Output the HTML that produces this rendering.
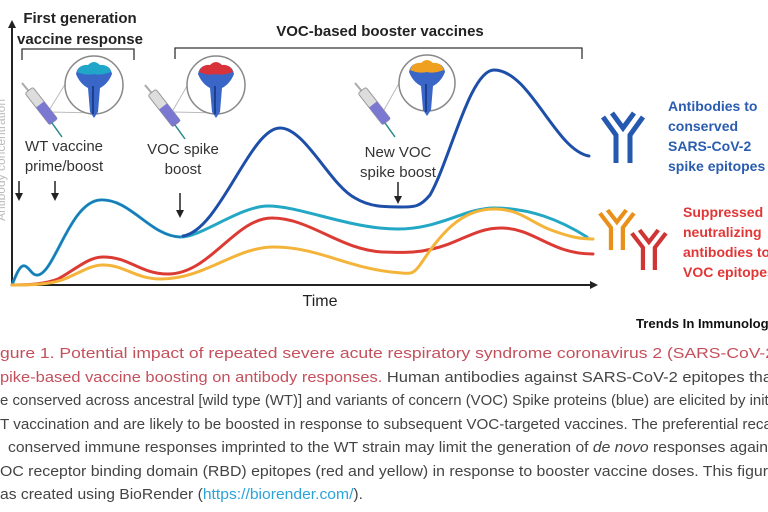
<!DOCTYPE html>
<html><head><meta charset="utf-8"><style>
html,body{margin:0;padding:0;background:#fff;}
svg{display:block;font-family:"Liberation Sans",sans-serif;}
</style></head><body>
<svg width="768" height="512" viewBox="0 0 768 512" xmlns="http://www.w3.org/2000/svg">
<defs>
<marker id="ah" markerWidth="8" markerHeight="8" refX="4" refY="4" orient="auto" markerUnits="userSpaceOnUse"><path d="M0,0 L8,4 L0,8 z" fill="#222"/></marker>
<g id="syr">
  <line x1="0" y1="0" x2="10" y2="12" stroke="#aaa" stroke-width="2"/>
  <rect x="-4" y="10" width="10" height="40" rx="2" fill="#ddd" stroke="#999" stroke-width="1" transform="rotate(-38 0 0)"/>
  <rect x="-4" y="28" width="10" height="22" fill="#7a78d0" transform="rotate(-38 0 0)"/>
  <line x1="30" y1="40" x2="40" y2="54" stroke="#2a8a8a" stroke-width="1.5"/>
</g>
<g id="spk">
  <path d="M-18,-10 Q-16,-20 -6,-18 Q0,-24 6,-18 Q16,-20 18,-10 Q14,0 6,4 L4,28 L0,34 L-4,28 L-6,4 Q-14,0 -18,-10z" fill="#3a66c8"/>
  <path d="M-1,2 L-1,30" stroke="#1c3f90" stroke-width="2"/>
</g>
<g id="ab">
  <path d="M-6,4 L7,22 L7,50 M34,4 L21,22 L21,50" stroke="currentColor" stroke-width="5" fill="none"/>
  <path d="M3,0 L14,15 L25,0" stroke="currentColor" stroke-width="5" fill="none"/>
</g>
</defs>

<!-- axes -->
<line x1="12" y1="285" x2="12" y2="24" stroke="#222" stroke-width="2" marker-end="url(#ah)"/>
<line x1="12" y1="285" x2="594" y2="285" stroke="#222" stroke-width="2" marker-end="url(#ah)"/>
<text x="5" y="160" font-size="12" fill="#bbb" transform="rotate(-90 5 160)" text-anchor="middle">Antibody concentration</text>
<text x="320" y="306" font-size="16" fill="#222" text-anchor="middle">Time</text>

<!-- headers -->
<text x="80" y="23" font-size="15" font-weight="bold" fill="#222" text-anchor="middle">First generation</text>
<text x="80" y="44" font-size="15" font-weight="bold" fill="#222" text-anchor="middle">vaccine response</text>
<path d="M22,60 V49 H134 V60" fill="none" stroke="#333" stroke-width="1.3"/>
<text x="380" y="36" font-size="15" font-weight="bold" fill="#222" text-anchor="middle">VOC-based booster vaccines</text>
<path d="M175,59 V48 H582 V59" fill="none" stroke="#333" stroke-width="1.3"/>

<!-- icons -->
<g>
  <line x1="48" y1="112" x2="80" y2="60" stroke="#bbb" stroke-width="1"/>
  <line x1="48" y1="112" x2="100" y2="113" stroke="#bbb" stroke-width="1"/>
  <circle cx="94" cy="85" r="29" fill="#fff" stroke="#888" stroke-width="1.5"/>
  <use href="#spk" x="94" y="84"/>
  <path d="M77,72 Q80,64 88,65 Q94,59 100,65 Q108,64 111,72 Q100,76 94,74 Q86,76 77,72z" fill="#1fa6c8"/>
  <use href="#syr" x="22" y="83"/>
</g>
<g>
  <line x1="172" y1="112" x2="202" y2="60" stroke="#bbb" stroke-width="1"/>
  <line x1="172" y1="112" x2="222" y2="113" stroke="#bbb" stroke-width="1"/>
  <circle cx="216" cy="85" r="29" fill="#fff" stroke="#888" stroke-width="1.5"/>
  <use href="#spk" x="216" y="84"/>
  <path d="M199,72 Q202,64 210,65 Q216,59 222,65 Q230,64 233,72 Q222,76 216,74 Q208,76 199,72z" fill="#d8323a"/>
  <use href="#syr" x="145" y="85"/>
</g>
<g>
  <line x1="384" y1="110" x2="412" y2="60" stroke="#bbb" stroke-width="1"/>
  <circle cx="427" cy="83" r="28" fill="#fff" stroke="#888" stroke-width="1.5"/>
  <use href="#spk" x="427" y="82"/>
  <path d="M410,70 Q413,62 421,63 Q427,57 433,63 Q441,62 444,70 Q433,74 427,72 Q419,74 410,70z" fill="#f0a020"/>
  <use href="#syr" x="355" y="83"/>
</g>

<!-- labels -->
<g font-size="15" fill="#333" text-anchor="middle">
<text x="64" y="151">WT vaccine</text><text x="64" y="171">prime/boost</text>
<text x="183" y="154">VOC spike</text><text x="183" y="174">boost</text>
<text x="398" y="157">New VOC</text><text x="398" y="177">spike boost</text>
</g>
<g stroke="#222" stroke-width="1.5">
<line x1="19" y1="181" x2="19" y2="197" marker-end="url(#ah)"/>
<line x1="55" y1="181" x2="55" y2="197" marker-end="url(#ah)"/>
<line x1="180" y1="193" x2="180" y2="214" marker-end="url(#ah)"/>
<line x1="398" y1="182" x2="398" y2="200" marker-end="url(#ah)"/>
</g>

<!-- curves -->
<g fill="none" stroke-width="3" stroke-linecap="round">
<path d="M12,285 C16,275 20,264 25,266 C30,268 32,276 38,275 C55,272 70,202 100,200 C130,198 150,236 180,237 C200,238 240,206 268,206 C300,206 350,229 398,229 C440,229 465,208 494,208 C530,208 560,220 587,237" stroke="#22a7c4"/>
<path d="M12,285 C16,275 20,264 25,266 C30,268 32,276 38,275 C55,272 70,202 100,200 C130,198 150,236 180,237" stroke="#1b62b3" stroke-width="2" opacity="0.7"/>
<path d="M183,236 C220,230 250,128 280,128 C305,128 330,185 355,198 C370,207 385,207 400,207 C415,207 420,207 430,195 C450,160 470,70 494,70 C530,70 555,150 589,156" stroke="#1d4fa8"/>
<path d="M12,285 C30,285 45,284 58,279 C75,270 88,257 103,257 C130,257 140,274 168,274 C210,274 235,218 272,218 C310,218 340,250 383,252 C410,253 420,252 432,249 C460,243 475,228 501,228 C535,228 550,254 593,254" stroke="#dc3b34"/>
<path d="M12,285 C35,285 50,284 62,280 C80,273 90,265 103,265 C125,265 135,279 161,279 C205,279 235,247 274,247 C320,247 350,270 402,273 C412,274 414,273 420,265 C440,235 460,209 494,209 C520,209 530,222 551,230 C570,237 580,239 593,239" stroke="#f4b43a"/>
</g>

<!-- legend -->
<g color="#2559b0" transform="translate(609,113)"><use href="#ab"/></g>
<g font-size="14" font-weight="bold" fill="#2a5db0">
<text x="668" y="111">Antibodies to</text><text x="668" y="131">conserved</text><text x="668" y="151">SARS-CoV-2</text><text x="668" y="171">spike epitopes</text>
</g>
<g color="#e8901a" transform="translate(605,210) scale(0.85 0.8)"><use href="#ab"/></g>
<g color="#cf3535" transform="translate(637,230) scale(0.85 0.8)"><use href="#ab"/></g>
<g font-size="14" font-weight="bold" fill="#e23636">
<text x="683" y="217">Suppressed</text><text x="683" y="237">neutralizing</text><text x="683" y="257">antibodies to</text><text x="683" y="277">VOC epitopes</text>
</g>

<text x="636" y="328" font-size="13" font-weight="bold" fill="#111" textLength="140" lengthAdjust="spacingAndGlyphs">Trends In Immunology</text>

<!-- caption -->
<g font-size="15" fill="#444">
<text x="0" y="358" fill="#c4505c" textLength="775" lengthAdjust="spacingAndGlyphs">gure 1. Potential impact of repeated severe acute respiratory syndrome coronavirus 2 (SARS-CoV-2</text>
<text x="0" y="382" textLength="772" lengthAdjust="spacingAndGlyphs"><tspan fill="#c4505c">pike-based vaccine boosting on antibody responses.</tspan> Human antibodies against SARS-CoV-2 epitopes tha</text>
<text x="0" y="405" textLength="772" lengthAdjust="spacingAndGlyphs">e conserved across ancestral [wild type (WT)] and variants of concern (VOC) Spike proteins (blue) are elicited by initi</text>
<text x="0" y="429" textLength="772" lengthAdjust="spacingAndGlyphs">T vaccination and are likely to be boosted in response to subsequent VOC-targeted vaccines. The preferential reca</text>
<text x="8" y="452" textLength="760" lengthAdjust="spacingAndGlyphs">conserved immune responses imprinted to the WT strain may limit the generation of <tspan font-style="italic">de novo</tspan> responses again</text>
<text x="0" y="476" textLength="768" lengthAdjust="spacingAndGlyphs">OC receptor binding domain (RBD) epitopes (red and yellow) in response to booster vaccine doses. This figur</text>
<text x="0" y="499" textLength="363" lengthAdjust="spacingAndGlyphs">as created using BioRender (<tspan fill="#2aa3d8">https://biorender.com/</tspan>).</text>
</g>
</svg>
</body></html>
